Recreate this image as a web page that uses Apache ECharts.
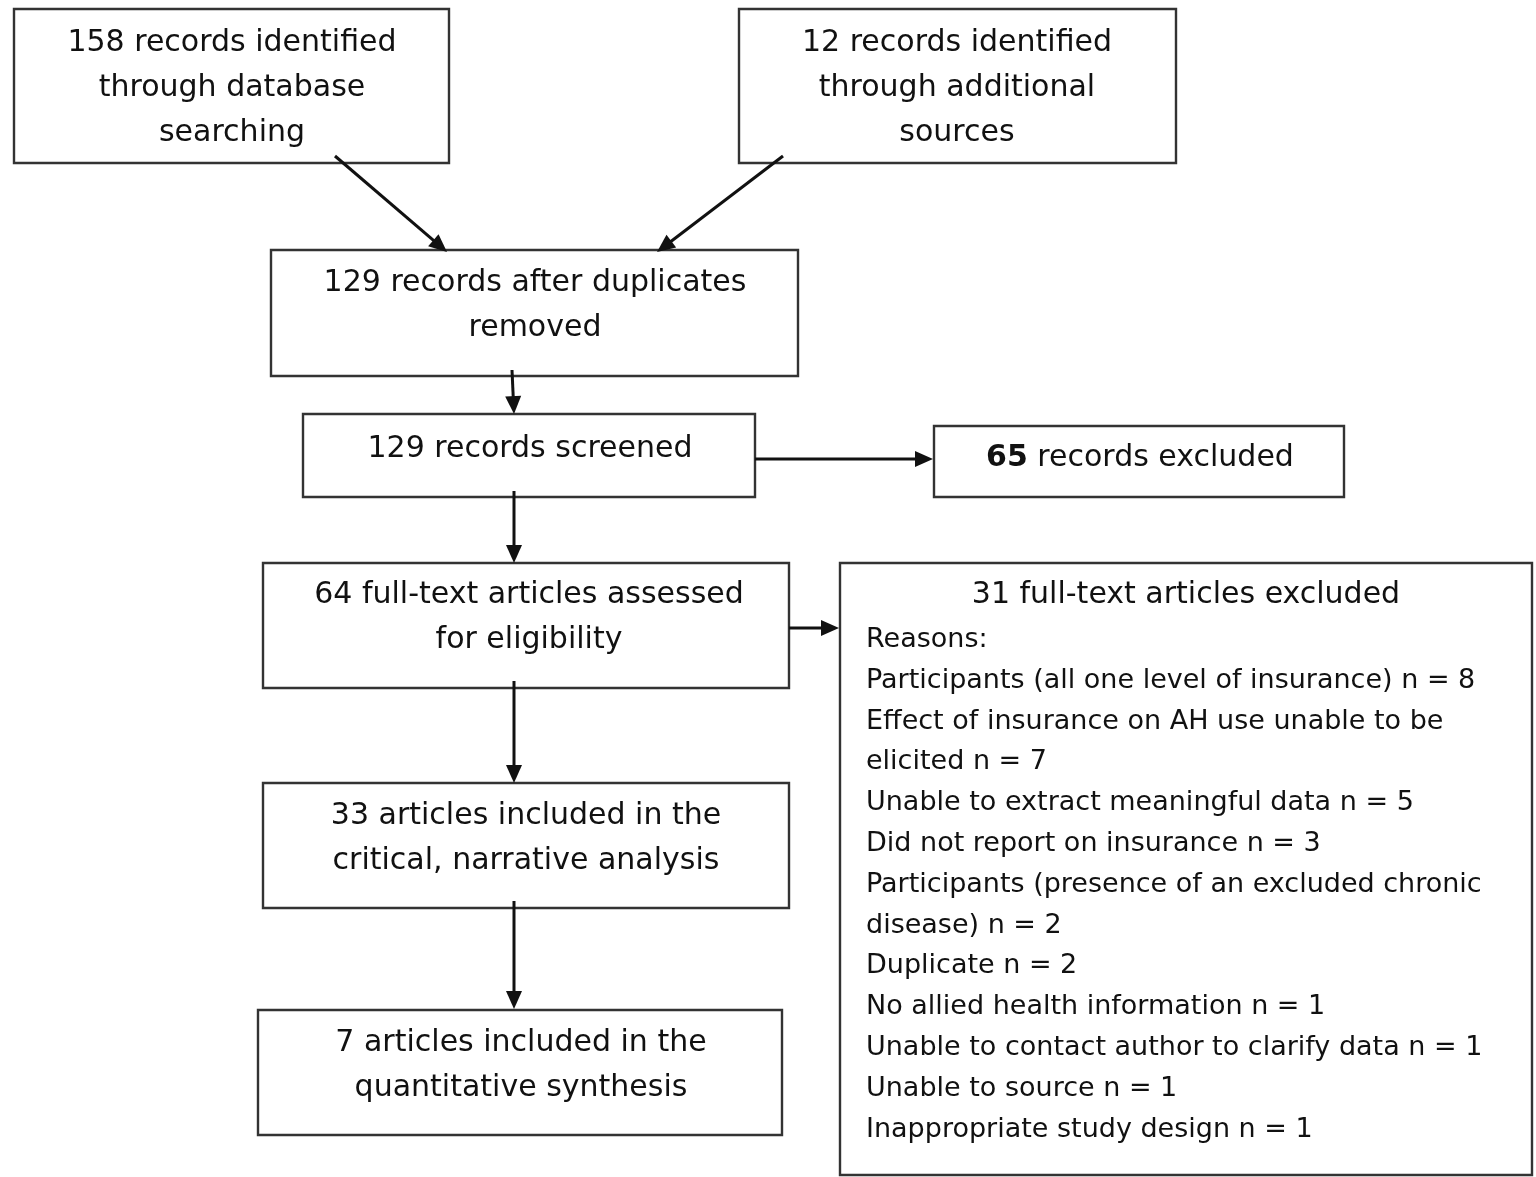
<!DOCTYPE html>
<html><head><meta charset="utf-8">
<script src="https://cdn.jsdelivr.net/npm/echarts@6/dist/echarts.min.js"></script>
<style>html,body{margin:0;padding:0;background:#fff}#c{width:1536px;height:1177px}</style>
</head><body><div id="c"></div>
<script>
// ---- data ----
const stageCounts = [158, 12, 129, 129, 65, 64, 31, 33, 7];
const stageLabels = [
  'records identified\nthrough database\nsearching',
  'records identified\nthrough additional\nsources',
  'records after duplicates\nremoved',
  'records screened',
  'records excluded',
  'full-text articles assessed\nfor eligibility',
  'full-text articles excluded',
  'articles included in the\ncritical, narrative analysis',
  'articles included in the\nquantitative synthesis'
];
const reasonsHeader = 'Reasons:';
const reasonLabels = [
  'Participants (all one level of insurance)',
  'Effect of insurance on AH use unable to be\nelicited',
  'Unable to extract meaningful data',
  'Did not report on insurance',
  'Participants (presence of an excluded chronic\ndisease)',
  'Duplicate',
  'No allied health information',
  'Unable to contact author to clarify data',
  'Unable to source',
  'Inappropriate study design'
];
const reasonCounts = [8, 7, 5, 3, 2, 2, 1, 1, 1, 1];
const flowLinks = [[0, 2], [1, 2], [2, 3], [3, 4], [3, 5], [5, 6], [5, 7], [7, 8]];

// ---- layout (pixel space of the hidden axes) ----
const boxRects = [
  [14, 9, 449, 163],
  [739, 9, 1176, 163],
  [271, 250, 798, 376],
  [303, 414, 755, 497],
  [934, 426, 1344, 497],
  [263, 563, 789, 688],
  [840, 563, 1532, 1175],
  [263, 783, 789, 908],
  [258, 1010, 782, 1135]
];
const textAnchors = [
  [232, 42], [957, 42], [535, 282], [530, 448], [1140, 457],
  [529, 594], [1186, 594], [526, 815], [521, 1042]
];
const arrowPaths = [
  [[335, 156], [447, 252]],
  [[783, 156], [657, 252]],
  [[512, 370], [514, 414]],
  [[755, 459], [933, 459]],
  [[514, 491], [514, 563]],
  [[789, 628], [839, 628]],
  [[514, 681], [514, 783]],
  [[514, 901], [514, 1009]]
];
const reasonsAnchor = [866, 639];
const FONT = '"DejaVu Sans", Tahoma, sans-serif';
const MAIN_SIZE = 30;
const MAIN_LH = 45;
const REASON_SIZE = 27;
const REASON_LH = 40.8;
const INK = '#111';
const EDGE = '#333';

const chart = echarts.init(document.getElementById('c'), null, {renderer: 'canvas'});

function boxText(i) {
  if (i === 4) return '{b|' + stageCounts[i] + '} ' + stageLabels[i];
  return stageCounts[i] + ' ' + stageLabels[i];
}

const reasonText = [reasonsHeader].concat(
  reasonLabels.map((l, k) => l + ' n = ' + reasonCounts[k])
).join('\n');

chart.setOption({
  animation: false,
  grid: {left: 0, right: 0, top: 0, bottom: 0},
  xAxis: {type: 'value', min: 0, max: 1536, show: false},
  yAxis: {type: 'value', min: 0, max: 1177, inverse: true, show: false},
  series: [
    {
      type: 'custom',
      coordinateSystem: 'cartesian2d',
      data: stageCounts.map((v, i) => [i, v]),
      renderItem: function (params, api) {
        const i = api.value(0);
        const r = boxRects[i];
        const p0 = api.coord([r[0], r[1]]);
        const p1 = api.coord([r[2], r[3]]);
        const a = api.coord(textAnchors[i]);
        const children = [
          {type: 'rect', shape: {x: p0[0], y: p0[1], width: p1[0] - p0[0], height: p1[1] - p0[1]},
           style: {fill: '#fff', stroke: EDGE, lineWidth: 2.4}},
          {type: 'text', style: {
            text: boxText(i), x: a[0], y: a[1] - MAIN_LH / 2 + 1,
            align: 'center', verticalAlign: 'top', lineHeight: MAIN_LH,
            fontSize: MAIN_SIZE, fontFamily: FONT, fill: INK,
            rich: {b: {fontWeight: 'bold', fontSize: MAIN_SIZE, fontFamily: FONT, fill: INK, lineHeight: MAIN_LH}}
          }}
        ];
        if (i === 6) {
          const ra = api.coord(reasonsAnchor);
          children.push({type: 'text', style: {
            text: reasonText, x: ra[0], y: ra[1] - REASON_LH / 2 + 1,
            align: 'left', verticalAlign: 'top', lineHeight: REASON_LH,
            fontSize: REASON_SIZE, fontFamily: FONT, fill: INK
          }});
        }
        return {type: 'group', children: children};
      },
      z: 2
    },
    {
      type: 'custom',
      coordinateSystem: 'cartesian2d',
      data: flowLinks.map((l, k) => [k, l[0], l[1]]),
      renderItem: function (params, api) {
        const k = api.value(0);
        const s = api.coord(arrowPaths[k][0]);
        const e = api.coord(arrowPaths[k][1]);
        const dx = e[0] - s[0], dy = e[1] - s[1];
        const len = Math.sqrt(dx * dx + dy * dy);
        const ux = dx / len, uy = dy / len;
        const hl = 18, hw = 8;
        const bx = e[0] - ux * hl, by = e[1] - uy * hl;
        return {type: 'group', children: [
          {type: 'line', shape: {x1: s[0], y1: s[1], x2: bx + ux, y2: by + uy},
           style: {stroke: '#111', lineWidth: 3}},
          {type: 'polygon', shape: {points: [
            [e[0], e[1]],
            [bx - uy * hw, by + ux * hw],
            [bx + uy * hw, by - ux * hw]
          ]}, style: {fill: '#111'}}
        ]};
      },
      z: 3
    }
  ]
});
</script>
</body></html>
